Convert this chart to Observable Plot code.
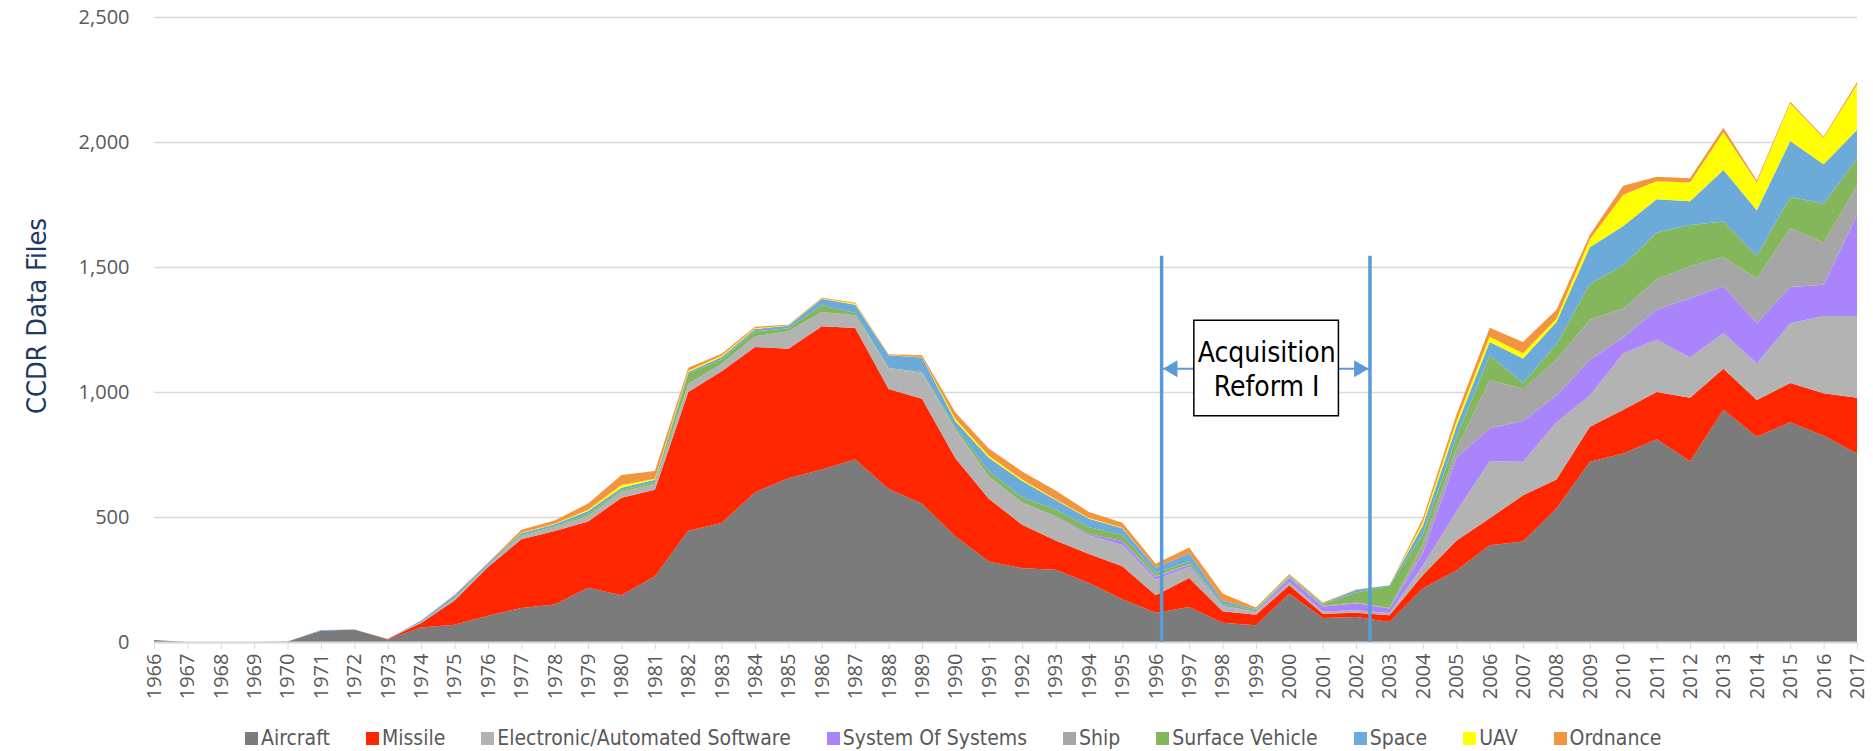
<!DOCTYPE html>
<html><head><meta charset="utf-8">
<script src="https://cdn.jsdelivr.net/npm/d3@7"></script>
<script src="https://cdn.jsdelivr.net/npm/@observablehq/plot@0.6"></script>
<style>
body{margin:0;background:#fff;}
#chart{position:relative;width:1873px;height:751px;overflow:hidden;}
#legend{position:absolute;left:0;top:724px;display:flex;gap:36px;padding-left:245px;font-family:"Liberation Sans Narrow","DejaVu Sans Condensed","Open Sans",sans-serif;font-size:21px;color:#595959;line-height:28px;white-space:nowrap;}
.item{display:flex;align-items:center;}
.sw{width:13px;height:13px;margin-right:3px;display:inline-block;}
</style></head><body><div id="chart"></div>
<script>
const years = [1966,1967,1968,1969,1970,1971,1972,1973,1974,1975,1976,1977,1978,1979,1980,1981,1982,1983,1984,1985,1986,1987,1988,1989,1990,1991,1992,1993,1994,1995,1996,1997,1998,1999,2000,2001,2002,2003,2004,2005,2006,2007,2008,2009,2010,2011,2012,2013,2014,2015,2016,2017];

const aircraft   = [8,0,0,0,2,45,50,10,58,69, 105,136,150,217,187,263,445,476,599,655, 690,730,612,553,422,322,295,289,236,171, 117,140,77,67,193,96,100,80,215,286, 387,402,534,721,754,811,723,929,821,879, 825,754];
const missile    = [0,0,0,0,0,0,0,2,18,97, 195,275,294,265,390,346,555,607,581,518, 573,526,400,420,313,251,174,117,116,132, 70,116,46,42,34,17,17,27,53,119, 108,185,116,140,175,189,254,164,147,157, 170,223];
const electronic = [0,0,0,0,0,0,0,0,4,10, 6,12,15,22,24,24,33,30,43,70, 57,51,80,100,110,90,87,94,74,85, 63,44,17,7,13,9,10,9,38,116, 228,134,229,125,226,209,161,143,146,239, 309,327];
const systemOfSystems = [0,0,0,0,0,0,0,0,0,0, 0,0,0,0,0,0,0,0,0,0, 0,0,0,0,0,0,2,3,6,16, 11,9,3,3,16,20,28,18,50,215, 132,163,107,143,63,120,237,187,161,145, 125,405];
const ship       = [0,0,0,0,0,0,0,0,0,0, 0,0,0,0,0,0,0,0,0,0, 0,0,4,5,5,0,0,0,0,0, 3,2,2,2,2,3,3,2,35,35, 193,128,143,160,116,121,129,116,179,235, 169,116];
const surfaceVehicle = [0,0,0,0,0,0,0,0,0,0, 0,4,4,8,7,7,40,18,20,12, 27,9,0,2,8,20,20,27,27,24, 13,11,7,7,4,6,40,88,40,45, 98,24,62,143,173,188,164,143,91,125, 156,107];
const space      = [0,0,0,0,0,3,0,0,6,10, 8,8,8,12,9,9,7,9,9,10, 26,33,51,58,25,54,66,38,34,27, 20,33,13,4,4,3,10,3,35,45, 54,98,89,147,157,133,95,206,182,224, 157,116];
const uav        = [0,0,0,0,0,0,0,0,0,0, 0,2,2,5,11,4,5,5,3,1, 2,4,1,1,9,8,6,3,3,2, 0,0,0,0,1,0,0,0,14,20, 21,21,13,32,125,72,75,151,111,151, 105,182];
const ordnance   = [0,0,0,0,0,0,0,0,0,3, 3,12,13,25,40,31,12,8,6,3, 3,4,3,8,26,29,32,35,24,20, 16,23,29,6,5,4,2,0,15,27, 36,45,36,18,36,18,17,18,8,6, 5,9];

const seriesNames = ["Aircraft","Missile","Electronic/Automated Software","System Of Systems","Ship","Surface Vehicle","Space","UAV","Ordnance"];
const seriesValues = [aircraft, missile, electronic, systemOfSystems, ship, surfaceVehicle, space, uav, ordnance];
const seriesColors = ["#7b7b7b","#ff2600","#b3b3b3","#aa84fc","#a6a6a6","#84b65c","#6baad9","#ffff00","#f2953f"];
const yTicks = [0,500,1000,1500,2000,2500];

// annotation (Acquisition Reform I)
const reformStart = 1996.16, reformEnd = 2002.4;
const boxX1 = 1997.14, boxX2 = 2001.47, boxY1 = 905, boxY2 = 1287, arrowY = 1095, lineTop = 1545;
const reformText = "Acquisition\nReform I";

const rows = [];
seriesNames.forEach((name, si) => years.forEach((yr, i) => rows.push({year: yr, series: name, value: seriesValues[si][i]})));

const narrow = '"Liberation Sans Narrow","DejaVu Sans Condensed","Open Sans",sans-serif';
const blue = "#5b9bd5";

const chart = Plot.plot({
  width: 1873, height: 712,
  marginLeft: 154, marginRight: 16, marginTop: 17, marginBottom: 70,
  style: {fontFamily: '"Open Sans", sans-serif', fontSize: "20px", background: "#fff"},
  x: {type: "linear", domain: [1966, 2017]},
  y: {domain: [0, 2500]},
  color: {domain: seriesNames, range: seriesColors},
  marks: [
    Plot.gridY(yTicks, {stroke: "#d9d9d9", strokeOpacity: 1, strokeWidth: 1.6}),
    Plot.areaY(rows, Plot.stackY({x: "year", y: "value", fill: "series", z: "series"})),
    Plot.ruleY([0], {stroke: "#d9d9d9", strokeWidth: 2}),
    Plot.axisX(years, {tickFormat: d => String(d), tickRotate: -90, tickSize: 7, tickPadding: 4, stroke: "#d9d9d9", fill: "#595959", fontSize: 20, label: null}),
    Plot.axisY(yTicks, {tickFormat: d3.format(","), tickSize: 0, tickPadding: 25, fill: "#595959", fontSize: 20, label: null}),
    Plot.text(["CCDR Data Files"], {frameAnchor: "left", dx: -117, dy: -14, rotate: -90, textAnchor: "middle", fontSize: 27, fill: "#1f3864", fontFamily: narrow}),
    Plot.ruleX([reformStart, reformEnd], {y1: 0, y2: lineTop, stroke: blue, strokeWidth: 3.5}),
    Plot.ruleY([arrowY], {x1: reformStart, x2: boxX1, stroke: blue, strokeWidth: 2}),
    Plot.ruleY([arrowY], {x1: boxX2, x2: reformEnd, stroke: blue, strokeWidth: 2}),
    Plot.dot([reformStart], {x: d => d, y: arrowY, dx: 11, symbol: "triangle2", rotate: -90, r: 8, fill: blue}),
    Plot.dot([reformEnd], {x: d => d, y: arrowY, dx: -11, symbol: "triangle2", rotate: 90, r: 8, fill: blue}),
    Plot.rect([0], {x1: boxX1, x2: boxX2, y1: boxY1, y2: boxY2, fill: "white", stroke: "black", strokeWidth: 1.5}),
    Plot.text([reformText], {x: (boxX1 + boxX2) / 2, y: (boxY1 + boxY2) / 2, fontSize: 28, lineHeight: 1.2, fill: "black", fontFamily: narrow})
  ]
});
const holder = document.getElementById("chart");
holder.appendChild(chart);

const legend = document.createElement("div");
legend.id = "legend";
seriesNames.forEach((name, i) => {
  const it = document.createElement("span");
  it.className = "item";
  const sw = document.createElement("span");
  sw.className = "sw";
  sw.style.background = seriesColors[i];
  it.appendChild(sw);
  it.appendChild(document.createTextNode(name));
  legend.appendChild(it);
});
holder.appendChild(legend);
</script>
</body></html>
